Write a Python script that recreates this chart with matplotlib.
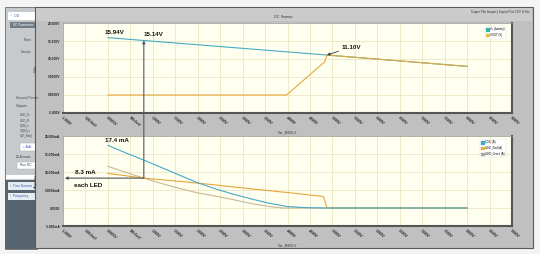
import matplotlib
matplotlib.use("Agg")
import matplotlib.pyplot as plt
from matplotlib.patches import Rectangle, Patch, ConnectionPatch

plt.rcParams['font.family'] = ['Liberation Sans', 'DejaVu Sans']

# ---------------- data ----------------
x_ticks = [-1.0, -0.5, 0.0, 0.5, 1.0, 1.5, 2.0, 2.5, 3.0, 3.5, 4.0, 4.5, 5.0,
           5.5, 6.0, 6.5, 7.0, 7.5, 8.0, 8.5, 9.0]
x_tick_labels = ["-1.000V", "-500.0mV", "0.0000V", "500.0mV", "1.000V", "1.500V",
                 "2.000V", "2.500V", "3.000V", "3.500V", "4.000V", "4.500V",
                 "5.000V", "5.500V", "6.000V", "6.500V", "7.000V", "7.500V",
                 "8.000V", "8.500V", "9.000V"]
top_y_ticks = [-5, 0, 5, 10, 15, 20]
top_y_labels = ["-5.000V", "0.0000V", "5.0000V", "10.000V", "15.000V", "20.000V"]
bot_y_ticks = [-5, 0, 5, 10, 15, 20]
bot_y_labels = ["-5.000mA", "0.0000", "5.0000mA", "10.000mA", "15.000mA", "20.000mA"]

# top plot: voltages (V)
vbatt_x = [0.0, 0.8, 4.88, 8.0]
vbatt_y = [15.94, 15.14, 11.10, 7.95]
vout_x = [0.0, 3.98, 4.83, 4.88, 8.0]
vout_y = [0.0, 0.0, 9.25, 11.10, 7.95]

# bottom plot: currents (mA)
id1_x = [0.0, 0.4, 0.8, 1.2, 1.6, 2.0, 2.4, 2.8, 3.2, 3.6, 4.0, 4.4, 4.8, 8.0]
id1_y = [17.4, 15.3, 13.3, 11.2, 9.1, 7.0, 5.3, 3.8, 2.5, 1.3, 0.4, 0.1, 0.0, 0.0]
ired_x = [0.0, 0.8, 1.6, 2.4, 3.2, 4.0, 4.8, 4.88, 8.0]
ired_y = [9.6, 8.3, 7.4, 6.4, 5.3, 4.3, 3.2, 0.0, 0.0]
igrn_x = [0.0, 0.4, 0.8, 1.2, 1.6, 2.0, 2.4, 2.8, 3.2, 3.6, 3.9, 8.0]
igrn_y = [11.6, 9.9, 8.3, 6.8, 5.4, 4.2, 3.3, 2.3, 1.2, 0.4, 0.0, 0.0]

mark_v = 0.8
mark_i = 8.3

W, H = 540, 254
fig = plt.figure(figsize=(W / 100, H / 100), dpi=100)
fig.patch.set_facecolor('#f4f4f4')


def rect(x0, y0, x1, y1, fc, ec='none', lw=0.0, z=-5):
    fig.add_artist(Rectangle((x0 / W, 1 - y1 / H), (x1 - x0) / W, (y1 - y0) / H,
                             transform=fig.transFigure, facecolor=fc,
                             edgecolor=ec, linewidth=lw, zorder=z))


def ftext(x, y, s, size=2.4, color='#333333', ha='left', **kw):
    fig.text(x / W, 1 - y / H, s, fontsize=size, color=color, ha=ha,
             va='center', **kw)


# ---------------- left side panel ----------------
rect(5, 7, 37, 249, '#c6cacd', '#6a6a6a', 0.6)
rect(8, 12, 37, 20, '#ffffff')
ftext(11, 16, "›  DD", 2.6, '#4466aa')
rect(10, 22, 37, 28, '#6f7c87')
ftext(13, 25, "DC Parameters", 2.2, 'white')
ftext(24, 40, "Point", 2.4, '#444444')
ftext(21, 52, "Sweep", 2.4, '#444444')
ftext(16, 98, "Second Param", 2.4, '#444444')
ftext(16, 106, "Outputs", 2.4, '#444444')
for yy, s in zip([114, 120, 126, 131, 136],
                 ["ILED_G", "ILED_R", "I(D1) c", "V(D1) c", "V(V_Batt)"]):
    ftext(20, yy, s, 2.2, '#444444')
rect(20, 143, 37, 151, '#ffffff', '#9aa4b0', 0.3)
ftext(23, 147, "+ Add", 2.3, '#3355aa')
ftext(16, 157, "☒ Animate", 2.2, '#444444')
rect(17, 162, 37, 169, '#ffffff', '#9aa4b0', 0.3)
ftext(20, 165.5, "Run DC", 2.3, '#444444')
rect(6, 175, 37, 179, '#ffffff')
rect(5, 180, 37, 249, '#56646f')
rect(8, 182, 37, 190, '#e4ecf4')
ftext(10, 186, "›  Time Domain", 2.3, '#3355aa')
rect(8, 193, 37, 200, '#e4ecf4')
ftext(10, 196.5, "›  Frequency", 2.3, '#3355aa')

# ---------------- main window ----------------
rect(35, 7, 533, 248, '#c0c0c0', '#5a5a5a', 0.8)
rect(36, 8, 532, 21, '#cbcbcb')
ftext(530, 12, "Copier Plot Images | Export Plot CSV | Hide", 2.2, '#333333', ha='right')

# ---------------- axes ----------------
ax_left, ax_w = 63 / W, 449 / W
ax1 = fig.add_axes([ax_left, 1 - 113 / H, ax_w, 90 / H])
ax2 = fig.add_axes([ax_left, 1 - 226 / H, ax_w, 90 / H])

for ax, yt, yl, ylab in [(ax1, top_y_ticks, top_y_labels, "Volts"),
                         (ax2, bot_y_ticks, bot_y_labels, "Amperes")]:
    ax.set_facecolor('#fffff0')
    ax.set_xlim(-1, 9)
    ax.set_ylim(-5, 20)
    ax.set_xticks(x_ticks)
    ax.set_xticklabels(x_tick_labels, rotation=-40, ha='left', va='top',
                       rotation_mode='anchor', fontsize=2.4, color='#222222',
                       fontweight='bold')
    ax.set_yticks(yt)
    ax.set_yticklabels(yl, fontsize=2.3, color='#222222', fontweight='bold')
    ax.tick_params(length=0, pad=2)
    ax.grid(True, color='#ebe6c2', linewidth=0.6)
    ax.set_axisbelow(True)
    for s in ['left', 'top']:
        ax.spines[s].set_color('#9a9a9a')
        ax.spines[s].set_linewidth(0.5)
    for s in ['right', 'bottom']:
        ax.spines[s].set_color('#555555')
        ax.spines[s].set_linewidth(1.5)
    ax.set_ylabel(ylab, fontsize=2.5, color='#333333')
    ax.yaxis.set_label_coords(-(63 - 38) / 449, 0.5)
    ax.set_xlabel("Car_BSDI,V", fontsize=2.5, color='#333333')
    ax.xaxis.set_label_coords(0.5, -0.19)

ax1.text(0.49, 1 + (113 - 17 - 90) / 90, "DC Sweep", transform=ax1.transAxes,
         fontsize=2.8, ha='center', va='center', color='#333333')

c_bat = '#45abc3'
c_out = '#e6a83a'
c_red = '#e6a53a'
c_grn = '#c9b896'
c_id1 = '#45a8c8'

ax1.plot(vbatt_x, vbatt_y, color=c_bat, lw=0.8)
ax1.plot(vout_x, vout_y, color=c_out, lw=0.8)
ax2.plot(igrn_x, igrn_y, color=c_grn, lw=0.8)
ax2.plot(ired_x, ired_y, color=c_red, lw=0.8)
ax2.plot(id1_x, id1_y, color=c_id1, lw=0.8)

leg_kw = dict(loc='upper right', bbox_to_anchor=(0.99, 0.985), fontsize=2,
              handlelength=0.8, handleheight=0.8, borderpad=0.6,
              labelspacing=0.6, handletextpad=0.5, framealpha=1,
              edgecolor='#dddddd', fancybox=False)
l1 = ax1.legend(handles=[Patch(color='#3fb0a8', label='V+ (battery)'),
                         Patch(color='#e8c040', label='VOUT (V)')], **leg_kw)
l1.get_frame().set_linewidth(0.3)
l2 = ax2.legend(handles=[Patch(color=c_id1, label='I(D1) (A)'),
                         Patch(color='#e8b040', label='ILED_Red (A)'),
                         Patch(color='#a8a898', label='ILED_Green (A)')], **leg_kw)
l2.get_frame().set_linewidth(0.3)

# ---------------- annotations ----------------
bold = dict(fontsize=4.5, fontweight='bold', color='#111111', ha='center', va='center')
ax1.annotate("15.94V", xy=(vbatt_x[0], vbatt_y[0]), xytext=(7, 5),
             textcoords='offset pixels', **bold)
ax1.annotate("15.14V", xy=(vbatt_x[1], vbatt_y[1]), xytext=(10, 5.5),
             textcoords='offset pixels', **bold)
ax1.annotate("11.10V", xy=(vbatt_x[2], vbatt_y[2]), xytext=(24, 8),
             textcoords='offset pixels',
             arrowprops=dict(arrowstyle='-|>', color='#333a40', lw=0.6,
                             mutation_scale=4, shrinkA=9, shrinkB=0), **bold)
ax2.annotate("17.4 mA", xy=(id1_x[0], id1_y[0]), xytext=(9, 4.5),
             textcoords='offset pixels', **bold)
ax2.annotate("8.3 mA", xy=(-1, mark_i), xytext=(22, 5.5),
             textcoords='offset pixels', **bold)
ax2.annotate("each LED", xy=(-1, mark_i), xytext=(25.5, -7),
             textcoords='offset pixels', **bold)

# horizontal arrow to the current axis
ax2.annotate("", xy=(-0.96, mark_i), xytext=(mark_v, mark_i),
             arrowprops=dict(arrowstyle='-|>', color='#4d5660', lw=0.8,
                             mutation_scale=4, shrinkA=0, shrinkB=0))
# vertical arrow joining both plots
con = ConnectionPatch(xyA=(mark_v, mark_i), coordsA=ax2.transData,
                      xyB=(mark_v, vbatt_y[1]), coordsB=ax1.transData,
                      arrowstyle='-|>', color='#4d5a68', lw=0.8,
                      mutation_scale=4, shrinkA=0, shrinkB=0, zorder=10)
fig.add_artist(con)

fig.savefig("out.png", dpi=100, facecolor=fig.get_facecolor())
